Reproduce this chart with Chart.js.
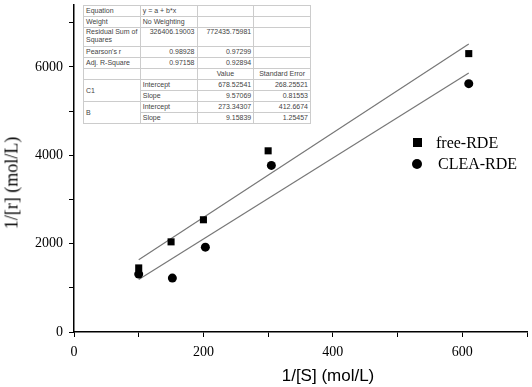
<!DOCTYPE html>
<html>
<head>
<meta charset="utf-8">
<script src="https://cdn.jsdelivr.net/npm/chart.js@4.4.1/dist/chart.umd.min.js"></script>
<style>
  body { margin: 0; background: #fff; }
  #wrap { position: relative; width: 532px; height: 387px; }
  #fit-table {
    position: absolute; left: 83px; top: 5px; width: 228px; table-layout: fixed;
    border-collapse: collapse; background: #fff;
    font-family: Arial, "Liberation Sans", sans-serif; font-size: 7px; color: #444;
    border: 1px solid #999;
  }
  #fit-table td { border: 1px solid #ccc; padding: 0 2px; height: 10px; line-height: 8px; white-space: nowrap; overflow: hidden; }
  #fit-table td.num { text-align: right; }
  #legend {
    position: absolute; left: 412px; top: 132px;
    font-family: "Times New Roman", "Liberation Serif", serif; font-size: 16px; color: #000;
  }
  #legend div { height: 21px; display: flex; align-items: center; }
  .sq { display: inline-block; width: 9px; height: 9px; background: #000; margin: 0 14px 0 1px; }
  .ci { display: inline-block; width: 10px; height: 10px; border-radius: 50%; background: #000; margin: 0 16px 0 0; }
  .axis-title { position: absolute; color: #000; white-space: nowrap; }
  #ytitle {
    left: 12px; top: 183px; transform: translate(-50%, -50%) rotate(-90deg);
    font-family: "Times New Roman", "Liberation Serif", serif; font-size: 18px;
  }
  #xtitle {
    left: 328px; top: 376px; transform: translate(-50%, -50%);
    font-family: Arial, "Liberation Sans", sans-serif; font-size: 17px;
  }
</style>
</head>
<body>
<div id="wrap">
  <canvas id="chart" width="532" height="387"></canvas>
  <table id="fit-table"></table>
  <div id="legend"></div>
  <div id="ytitle" class="axis-title"></div>
  <div id="xtitle" class="axis-title"></div>
</div>
<script>
// data
const seriesNames = ['free-RDE', 'CLEA-RDE'];
const freeX = [100, 150, 200, 300, 610];
const freeY = [1450, 2040, 2540, 4100, 6300];
const cleaX = [100, 152, 203, 305, 610];
const cleaY = [1310, 1220, 1920, 3770, 5620];

// linear fit results printed in the table
const fitIntercepts = [678.52541, 273.34307];
const fitSlopes = [9.57069, 9.15839];
const fitRange = [100, 610];

// tick positions (minor ones get no label)
const xTickValues = [0, 100, 200, 300, 400, 500, 600, 700];
const yTickValues = [0, 1000, 2000, 3000, 4000, 5000, 6000, 7000];
const xTicksLabelled = [0, 200, 400, 600];
const yTicksLabelled = [0, 2000, 4000, 6000];
const xTitle = '1/[S] (mol/L)';
const yTitle = '1/[r] (mol/L)';

// table rows
const tableRows = [
  ['Equation', 'y = a + b*x', '', ''],
  ['Weight', 'No Weighting', '', ''],
  ['Residual Sum of Squares', '326406.19003', '772435.75981', ''],
  ["Pearson's r", '0.98928', '0.97299', ''],
  ['Adj. R-Square', '0.97158', '0.92894', ''],
  ['', '', 'Value', 'Standard Error'],
  ['C1', 'Intercept', '678.52541', '268.25521'],
  ['', 'Slope', '9.57069', '0.81553'],
  ['B', 'Intercept', '273.34307', '412.6674'],
  ['', 'Slope', '9.15839', '1.25457']
];

function buildTable() {
  const t = document.getElementById('fit-table');
  tableRows.forEach((r, i) => {
    const tr = document.createElement('tr');
    r.forEach((c, j) => {
      // merged name cells for C1 / B
      if ((i === 7 || i === 9) && j === 0) return;
      const td = document.createElement('td');
      if ((i === 6 || i === 8) && j === 0) td.rowSpan = 2;
      if (i === 2) { td.style.height = '18px'; td.style.verticalAlign = 'top'; }
      if (i === 2 && j === 0) td.style.whiteSpace = 'normal';
      td.textContent = c;
      if ((i >= 2 && i <= 4 && j > 0) || (i >= 6 && j >= 2)) td.className = 'num';
      if (i === 5 && j >= 2) td.style.textAlign = 'center';
      tr.appendChild(td);
    });
    t.appendChild(tr);
  });
}

function buildLegend() {
  const lg = document.getElementById('legend');
  lg.innerHTML = `
    <div><span class="sq"></span>${seriesNames[0]}</div>
    <div><span class="ci"></span>${seriesNames[1]}</div>`;
  document.getElementById('xtitle').textContent = xTitle;
  document.getElementById('ytitle').textContent = yTitle;
}

function toPoints(xs, ys) {
  return xs.map((x, i) => ({ x: x, y: ys[i] }));
}

function fitLine(k) {
  return fitRange.map(x => ({ x: x, y: fitIntercepts[k] + fitSlopes[k] * x }));
}

buildTable();
buildLegend();

const tickFont = { family: '"Times New Roman", "Liberation Serif", serif', size: 14 };

const ctx = document.getElementById('chart').getContext('2d');
new Chart(ctx, {
  type: 'scatter',
  data: {
    datasets: [
      {
        label: seriesNames[0], data: toPoints(freeX, freeY),
        pointStyle: 'rect', pointRadius: 5, backgroundColor: '#000', borderColor: '#000', pointBorderWidth: 0
      },
      {
        label: seriesNames[1], data: toPoints(cleaX, cleaY),
        pointStyle: 'circle', pointRadius: 4.5, backgroundColor: '#000', borderColor: '#000', pointBorderWidth: 0
      },
      {
        type: 'line', label: 'fit1', data: fitLine(0),
        borderColor: '#777', borderWidth: 1.2, pointRadius: 0, fill: false
      },
      {
        type: 'line', label: 'fit2', data: fitLine(1),
        borderColor: '#777', borderWidth: 1.2, pointRadius: 0, fill: false
      }
    ]
  },
  options: {
    responsive: false,
    animation: false,
    layout: { padding: { top: 5, right: 2, left: 0, bottom: 0 } },
    plugins: { legend: { display: false }, tooltip: { enabled: false } },
    scales: {
      x: {
        type: 'linear', min: 0, max: 700,
        afterBuildTicks: s => { s.ticks = xTickValues.map(v => ({ value: v })); },
        afterFit: s => { s.height = 55; s.paddingLeft = 0; s.paddingRight = 0; },
        border: { color: '#000', width: 1.5 },
        grid: { display: true, drawOnChartArea: false, tickLength: 5, color: '#000', lineWidth: 1 },
        ticks: {
          color: '#000', padding: 7, autoSkip: false, maxRotation: 0,
          font: tickFont,
          callback: v => xTicksLabelled.includes(Math.round(v)) ? String(Math.round(v)) : ''
        }
      },
      y: {
        type: 'linear', min: 0, max: 7400,
        afterBuildTicks: s => { s.ticks = yTickValues.map(v => ({ value: v })); },
        afterFit: s => { s.width = 74; s.paddingTop = 0; s.paddingBottom = 0; },
        border: { color: '#000', width: 1.5 },
        grid: { display: true, drawOnChartArea: false, tickLength: 5, color: '#000', lineWidth: 1 },
        ticks: {
          color: '#000', padding: 6, autoSkip: false,
          font: tickFont,
          callback: v => yTicksLabelled.includes(Math.round(v)) ? String(Math.round(v)) : ''
        }
      }
    }
  }
});
</script>
</body>
</html>
